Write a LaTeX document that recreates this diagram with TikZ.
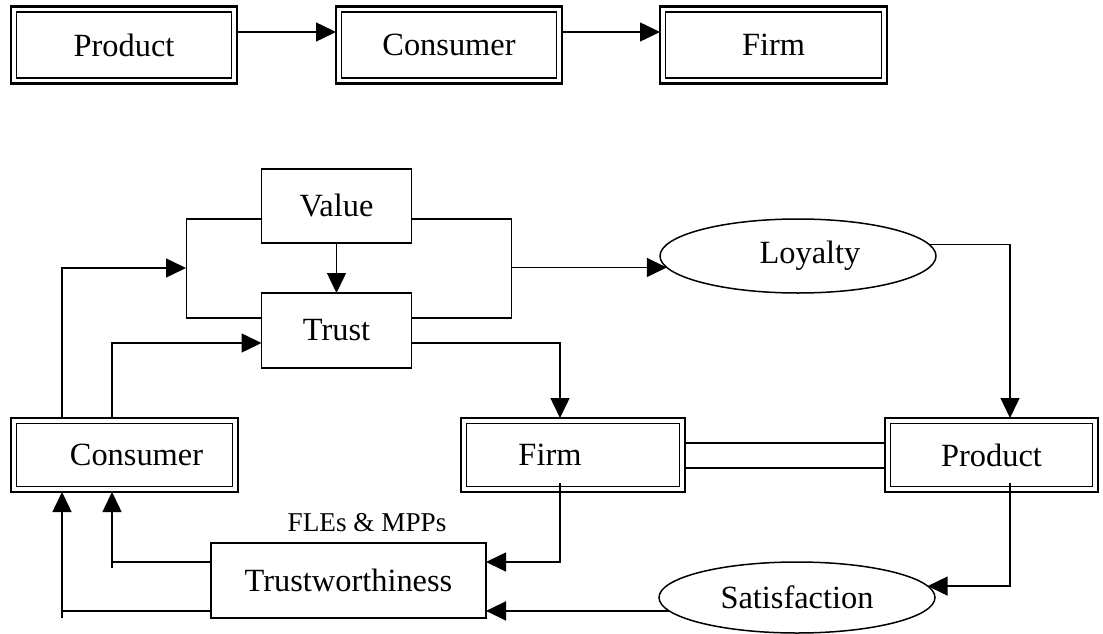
\documentclass[tikz,border=0pt]{standalone}
\usepackage{fontspec}
\setmainfont{Liberation Serif}
\usetikzlibrary{arrows.meta,shapes.geometric}
\begin{document}
\begin{tikzpicture}[x=1pt,y=-1pt,
  every node/.style={font=\fontsize{32.4}{38}\selectfont, inner sep=0pt, outer sep=0pt},
  box/.style={draw, line width=1.5pt, rectangle},
  dbox/.style={draw, line width=2.4pt, rectangle},
  oval/.style={draw, line width=1.5pt, ellipse},
  conn/.style={line width=1.5pt},
  arr/.style={line width=1.5pt, -{Triangle[length=20pt,width=19pt]}},
  lbl/.style={font=\fontsize{27.2}{32}\selectfont}
]
\useasboundingbox (0,0) rectangle (1103,634);

% top row
\node[dbox, minimum width=226pt, minimum height=77pt] (PT) at (124,45) {Product};
\node[dbox, minimum width=226pt, minimum height=77pt] (CT) at (449,45) {Consumer};
\node[dbox, minimum width=227pt, minimum height=77pt] (FT) at (773.5,45) {Firm};

% middle
\node[box, minimum width=150pt, minimum height=74pt] (V) at (336.5,206) {Value};
\node[box, minimum width=150pt, minimum height=75pt] (T) at (336.5,330.5) {Trust};
\node[oval, minimum width=276pt, minimum height=74pt] (L) at (798,256) {\hspace*{24pt}Loyalty};

% lower boxes
\node[dbox, minimum width=227pt, minimum height=74pt] (C) at (124.5,455) {\hspace*{24pt}Consumer};
\node[dbox, minimum width=224pt, minimum height=74pt] (F) at (573,455) {Firm\hspace*{46pt}};
\node[dbox, minimum width=213pt, minimum height=74pt] (P) at (991.5,455) {Product};

% bottom
\node[box, minimum width=275pt, minimum height=75pt] (TW) at (348.5,580.5) {Trustworthiness};
\node[oval, minimum width=276pt, minimum height=71pt] (S) at (797,597.5) {Satisfaction};
\node[lbl] (FM) at (367,523) {FLEs \& MPPs};

% inner lines of double boxes
\foreach \n in {PT,CT,FT,C,F,P}
  \draw[line width=1.5pt] ([shift={(5.3pt,5.3pt)}]\n.south west) rectangle ([shift={(-5.3pt,-5.3pt)}]\n.north east);

% top arrows
\draw[arr] ([yshift=13pt]PT.east) -- ([yshift=13pt]CT.west);
\draw[arr] ([yshift=13pt]CT.east) -- ([yshift=13pt]FT.west);

% value -> trust
\draw[arr] (V.south) -- (T.north);

% bracket
\draw[conn] ([yshift=-13pt]V.west) -- ++(-75,0) |- ([yshift=12.5pt]T.west);
\draw[conn] ([yshift=-13pt]V.east) -- ++(100,0) |- ([yshift=12.5pt]T.east);
\coordinate (bin) at (186,268);
\coordinate (bR) at (511,268);

% consumer -> bracket, consumer -> trust
\draw[arr] ([xshift=-62.5pt]C.north) |- (bin);
\draw[arr] ([xshift=-12.5pt]C.north) |- ([yshift=-12.5pt]T.west);

% trust -> firm
\draw[arr] ([yshift=-12.5pt]T.east) -| ([xshift=-13pt]F.north);

% bracket -> loyalty
\draw[arr] (L.185.25 -| bR) -- (L.185.25);

% loyalty -> product
\draw[arr] (L.5.75) -| ([xshift=18.5pt]P.north);

% firm = product
\draw[conn] ([yshift=12pt]F.east) -- ([yshift=12pt]P.west);
\draw[conn] ([yshift=-13pt]F.east) -- ([yshift=-13pt]P.west);

% firm -> trustworthiness
\draw[arr] ([shift={(-13pt,-28pt)}]F.center) |- ([yshift=18.5pt]TW.east);

% product -> satisfaction
\draw[arr] ([shift={(18.5pt,-28pt)}]P.center) |- (S.5.04);

% satisfaction -> trustworthiness
\draw[arr] (S.186.56) -- (S.186.56 -| TW.east);

% trustworthiness -> consumer
\coordinate (c1) at (112,568);
\coordinate (c2) at (62,618);
\draw[conn] ([yshift=18.5pt]TW.west) -- ([yshift=18.5pt]TW.west -| c1);
\draw[arr] (c1) -- (c1 |- C.south);
\draw[conn] (S.186.56 -| TW.west) -- (S.186.56 -| c2);
\draw[arr] (c2) -- (c2 |- C.south);
\end{tikzpicture}
\end{document}
